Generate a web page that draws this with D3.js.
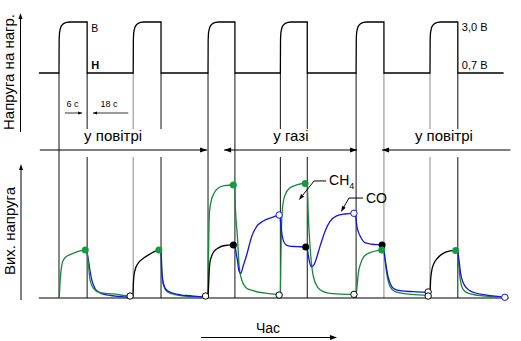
<!DOCTYPE html>
<html><head><meta charset="utf-8">
<script src="https://cdn.jsdelivr.net/npm/d3@7/dist/d3.min.js"></script>
<style>
html,body{margin:0;padding:0;background:#fff}
svg{display:block}
text{font-family:"Liberation Sans",Arial,Helvetica,sans-serif;fill:#000}
</style></head><body>
<svg id="chart" width="521" height="341"></svg>
<script>
// ---------------- data ----------------
const pulseRise = [0, 24.0, 48.2, 71.6, 96.1, 120.0];      // s
const pulseFall = [9.1, 33.0, 56.9, 80.3, 105.1, 129.0];   // s
const heaterLevels = [0.7, 3.0];                           // V
const heaterLevelLabels = ["0,7 В", "3,0 В"];
const heaterLevelLetters = ["Н", "В"];
const heaterRiseShape = [[0,0.7],[0.05,2.2],[0.15,2.5],[0.35,2.66],[0.6,2.78],[1.0,2.87],[1.6,2.94],[2.4,2.98],[3.5,3.0]];
const timeSpan = [-6.5, 143.8];
const baseSpan = [-6.5, 145.5];
const edgeBroken = [[false,true],[true,true],[false,false],[true,true],[false,false],[true,true]];
const edgeGray   = [[false,false],[true,false],[false,false],[false,false],[false,true],[true,false]];
const phaseLabels = ["у повітрі", "у газі", "у повітрі"];
const phaseStart = [-6.2, 53.4, 104.5];
const phaseEnd   = [47.9, 96.4, 146.0];
const phaseHeadStart = [false, true, true];
const phaseHeadEnd   = [true, true, false];
const phaseLabelT = [17.5, 75.0, 124.5];
const intervalLabels = ["6 с", "18 с"];
const intervalFrom = [1.9, 11.0];
const intervalTo   = [7.5, 22.4];
const intervalDir  = ["right", "left"];
const intervalLabelT = [4.4, 16.2];
const axisLabels = ["Напруга на нагр.", "Вих. напруга", "Час"];

// output voltage traces (time s, output a.u.)
const green_p0 = [[0.1,0],[0.3,10],[0.5,16],[0.9,23.5],[1.4,27],[2.2,29.3],[3.6,31],[5.7,33],[7.9,34.1],[9.0,34.3],[9.2,30],[9.48,25],[10.03,12.9],[11.1,7.1],[13.26,3.8],[17.5,2.9],[21.9,1.6],[23.0,1.4]];
const blue_p0  = [[9.0,34.3],[9.3,30],[9.6,26],[10.0,20],[10.6,13],[11.6,7],[13,4],[16,2],[20,1],[23,0.5]];
const black_p1 = [[23.0,1.0],[23.9,1.3],[24.05,10],[24.2,15],[24.6,20],[25.6,24.8],[27.3,28.4],[29.4,31.4],[31.6,33.8],[32.3,34.3]];
const green_p1 = [[32.3,34.3],[33.0,34],[33.25,19],[33.8,9],[35,4.5],[37.5,2.5],[42,1.2],[47.4,0.8]];
const blue_p1  = [[32.3,34.3],[33.0,34],[33.2,22],[33.7,11],[34.8,5.7],[37,3.4],[39.1,2.3],[42.4,1.6],[46.6,0.8],[47.4,1.0]];
const black_p2 = [[47.4,1.0],[48.2,1.5],[48.45,12],[48.6,20],[48.8,25],[49.3,29.5],[49.9,32.5],[51.6,35.8],[53.7,37.5],[56.4,37.9]];
const green_p2 = [[47.4,1.0],[48.2,1.5],[48.35,30],[48.5,50],[48.7,62],[49.3,70],[50.2,75],[51.5,78.5],[53.5,80.3],[56.4,80.7],[56.9,80.6],[57.0,68],[57.7,44],[58.3,22],[59.1,13],[60.7,7],[62.8,5.2],[67.2,3.3],[70.4,2.6],[71.2,2.3]];
const blue_p2  = [[56.4,37.9],[56.95,37],[57.3,32],[57.7,27],[58.2,19.5],[58.8,17.6],[59.6,23],[60.7,30.7],[62.3,43.8],[63.9,51],[66.1,55],[68.8,57.4],[71.2,59.3]];
const green_p3 = [[71.2,2.3],[71.6,3],[71.75,25],[71.9,45],[72.05,56],[72.5,68],[73.3,74.5],[74.6,78.5],[76.9,80.8],[79.6,81.8],[80.3,81.6],[80.6,61],[81.2,37],[82.3,15],[83.9,7],[85.5,4.5],[87.6,3.3],[94.1,2.6],[95.4,2.6]];
const blue_p3  = [[71.2,59.3],[71.6,56],[72.0,47.5],[72.5,41.5],[73.4,38],[74.5,37],[76.9,36.7],[79.8,36.4],[80.3,35],[80.6,31],[81.0,26],[81.7,22.4],[82.4,23.5],[84.4,36.7],[86.0,47.4],[87.6,54.5],[89.8,58.6],[92.5,60],[95.4,60.5]];
const green_p4 = [[95.4,2.6],[96.1,3],[96.4,8],[96.8,17.5],[97.6,24.8],[98.6,29.5],[100.6,32.4],[102.8,33.8],[104.4,34.3],[105.1,34.2],[105.4,28],[106,17.5],[107.1,8],[108.7,4.5],[112.4,2.9],[118.9,1.9],[119.4,1.8]];
const blue_p4  = [[95.4,60.5],[96.0,58],[96.3,52],[96.8,47.4],[97.6,43.4],[99.0,39.5],[101.2,38.4],[104.5,37.9],[105.1,37],[105.3,31],[105.7,24.8],[106.2,17.6],[107.1,10.5],[108.1,7],[110.3,5.2],[114.6,4.5],[118.9,4],[119.4,4.2]];
const black_p5 = [[119.4,1.6],[120.0,2.2],[120.2,12.9],[120.6,20],[121.3,24.8],[122.4,28.4],[124.3,31.9],[126.5,33.6],[128.3,34]];
const green_p5 = [[128.3,34],[129.0,33.6],[129.35,22],[129.8,13],[130.5,7],[131.8,4],[134,2.5],[138,1.3],[142,0.6]];
const blue_p5  = [[128.3,34],[129.0,33.6],[129.3,28],[129.5,24.8],[129.9,17.6],[130.6,11.6],[131.9,7],[134.0,4.1],[138.3,2.1],[142.6,0.95],[144.2,0.5]];

const greenDots = [[8.5,34.3],[32.3,34.3],[56.4,80.7],[79.6,81.8],[104.4,34.3],[128.3,34]];
const blackDots = [[56.4,37.9],[79.8,36.4],[104.5,37.9]];
const openBlack = [[23.0,1.4],[47.4,1.4],[71.2,2.1],[95.4,2.6],[119.4,4.3],[119.4,1.4]];
const openBlue  = [[71.2,59.3],[95.4,60.5],[144.2,0.5]];

const gasNames = ["CH", "CO"];
const gasLeaderCH4 = [[86.4,83.6],[82.5,83.6],[77.6,70]];
const gasLeaderCO  = [[98.3,71.4],[93.8,71.4],[91.2,61.4]];

// ---------------- drawing ----------------
const COL = {green:"#138a3a", blue:"#1414e6", black:"#000", gray:"#8a8a8a"};
const svg = d3.select("#chart");
const x  = d3.scaleLinear().domain([0,120]).range([59,430]);
const yH = d3.scaleLinear().domain([0.7,3.0]).range([73,22]);
const yO = d3.scaleLinear().domain([0,100]).range([298,158]);

function head(g, px, py, ang, len=7, half=2.6, fill="#000"){
  const c=Math.cos(ang), s=Math.sin(ang);
  const bx=px-len*c, by=py-len*s;
  g.append("path").attr("d",`M${px},${py}L${bx - half*s},${by + half*c}L${bx + half*s},${by - half*c}Z`).attr("fill",fill);
}

// vertical edge lines
const gv = svg.append("g");
pulseRise.forEach((r,i)=>{
  [r, pulseFall[i]].forEach((t,k)=>{
    const xx = x(t);
    const segs = edgeBroken[i][k] ? [[yH(0.7),129],[157,yO(0)]] : [[yH(0.7),yO(0)]];
    segs.forEach(([a,b])=>gv.append("line").attr("x1",xx).attr("x2",xx).attr("y1",a).attr("y2",b)
      .attr("stroke", edgeGray[i][k]?COL.gray:"#111").attr("stroke-width",1));
  });
});

// axes
const ga = svg.append("g");
ga.append("line").attr("x1",20.5).attr("x2",20.5).attr("y1",132).attr("y2",17).attr("stroke","#000");
head(ga,20.5,13,-Math.PI/2,6,2);
ga.append("line").attr("x1",21).attr("x2",21).attr("y1",300).attr("y2",168).attr("stroke","#000");
head(ga,21,164,-Math.PI/2,6,2);
ga.append("line").attr("x1",x(baseSpan[0])).attr("x2",x(baseSpan[1])).attr("y1",yO(0)).attr("y2",yO(0)).attr("stroke","#000").attr("stroke-width",1.2);

// heater trace
const hp = [[timeSpan[0], heaterLevels[0]]];
pulseRise.forEach((r,i)=>{
  heaterRiseShape.forEach(([dt,v])=>hp.push([r+dt,v]));
  hp.push([pulseFall[i], heaterLevels[1]]);
  hp.push([pulseFall[i], heaterLevels[0]]);
});
hp.push([timeSpan[1], heaterLevels[0]]);
svg.append("path").attr("d", d3.line().x(d=>x(d[0])).y(d=>yH(d[1]))(hp))
  .attr("fill","none").attr("stroke","#000").attr("stroke-width",1.3);

// heater labels
svg.append("text").attr("x",x(pulseFall[0])+4).attr("y",yH(heaterLevels[1])+10).attr("font-size",10.5).text(heaterLevelLetters[1]);
svg.append("text").attr("x",x(pulseFall[0])+4).attr("y",yH(heaterLevels[0])-4).attr("font-size",11).attr("font-weight","bold").text(heaterLevelLetters[0]);
svg.append("text").attr("x",x(pulseFall[5])+4).attr("y",yH(heaterLevels[1])+9).attr("font-size",11).text(heaterLevelLabels[1]);
svg.append("text").attr("x",x(pulseFall[5])+4).attr("y",yH(heaterLevels[0])-4).attr("font-size",11).text(heaterLevelLabels[0]);

// interval annotations
intervalLabels.forEach((lab,i)=>{
  const y=113, a=x(intervalFrom[i]), b=x(intervalTo[i]);
  svg.append("line").attr("x1",a).attr("x2",b).attr("y1",y).attr("y2",y).attr("stroke","#000").attr("stroke-width",0.8);
  if(intervalDir[i]==="right") head(svg,b,y,0,4,1.4); else head(svg,a,y,Math.PI,4,1.4);
  svg.append("text").attr("x",x(intervalLabelT[i])).attr("y",107).attr("font-size",9).attr("text-anchor","middle").text(lab);
});

// phase arrows
phaseLabels.forEach((lab,i)=>{
  const y=150, a=x(phaseStart[i]), b=x(phaseEnd[i]);
  svg.append("line").attr("x1",a).attr("x2",b).attr("y1",y).attr("y2",y).attr("stroke","#000").attr("stroke-width",1.1);
  if(phaseHeadEnd[i]) head(svg,b,y,0,7,2.6);
  if(phaseHeadStart[i]) head(svg,a,y,Math.PI,7,2.6);
  svg.append("text").attr("x",x(phaseLabelT[i])).attr("y",141).attr("font-size",15).attr("text-anchor","middle").text(lab);
});

// output traces
const lo = d3.line().x(d=>x(d[0])).y(d=>yO(d[1])).curve(d3.curveMonotoneX);
const traces = [
  [blue_p0,"blue"],
  [green_p0,"green"],[green_p1,"green"],[green_p2,"green"],[green_p3,"green"],[green_p4,"green"],[green_p5,"green"],
  [black_p1,"black"],[black_p2,"black"],[black_p5,"black"],
  [blue_p1,"blue"],[blue_p2,"blue"],[blue_p3,"blue"],[blue_p4,"blue"],[blue_p5,"blue"]
];
traces.forEach(([pts,c])=>svg.append("path").attr("d",lo(pts)).attr("fill","none").attr("stroke",COL[c]).attr("stroke-width",1.3));

blackDots.forEach(d=>svg.append("circle").attr("cx",x(d[0])).attr("cy",yO(d[1])).attr("r",3.5).attr("fill","#000"));
greenDots.forEach(d=>svg.append("circle").attr("cx",x(d[0])).attr("cy",yO(d[1])).attr("r",3.5).attr("fill","#169a40"));
openBlack.forEach(d=>svg.append("circle").attr("cx",x(d[0])).attr("cy",yO(d[1])).attr("r",3.2).attr("fill","#fff").attr("stroke","#000").attr("stroke-width",1));
openBlue.forEach(d=>svg.append("circle").attr("cx",x(d[0])).attr("cy",yO(d[1])).attr("r",3.2).attr("fill","#fff").attr("stroke",COL.blue).attr("stroke-width",1));

// gas leaders
[gasLeaderCH4, gasLeaderCO].forEach(pts=>{
  const p = pts.map(d=>[x(d[0]), yO(d[1])]);
  svg.append("path").attr("d", d3.line()(p.slice(0,-1).concat([[p[2][0]+ (p[1][0]-p[2][0])*0.25, p[2][1] + (p[1][1]-p[2][1])*0.25]])))
    .attr("fill","none").attr("stroke","#000").attr("stroke-width",1);
  head(svg, p[2][0], p[2][1], Math.atan2(p[2][1]-p[1][1], p[2][0]-p[1][0]), 6, 2);
});
const ch = svg.append("text").attr("x", x(gasLeaderCH4[0][0])+3).attr("y", yO(gasLeaderCH4[0][1])+4.5).attr("font-size",14);
ch.append("tspan").text(gasNames[0]);
ch.append("tspan").attr("font-size",9).attr("dy",4).text("4");
svg.append("text").attr("x", x(gasLeaderCO[0][0])+3).attr("y", yO(gasLeaderCO[0][1])+5).attr("font-size",14).text(gasNames[1]);

// axis titles
svg.append("text").attr("transform","translate(13.5,72) rotate(-90)").attr("text-anchor","middle").attr("font-size",15).text(axisLabels[0]);
svg.append("text").attr("transform","translate(14.5,231) rotate(-90)").attr("text-anchor","middle").attr("font-size",15).text(axisLabels[1]);
svg.append("text").attr("x",268).attr("y",333).attr("text-anchor","middle").attr("font-size",14).text(axisLabels[2]);
svg.append("line").attr("x1",201).attr("x2",330).attr("y1",337.5).attr("y2",337.5).attr("stroke","#000").attr("stroke-width",1.1);
head(svg,337,337.5,0,7,2.4);
</script></body></html>
